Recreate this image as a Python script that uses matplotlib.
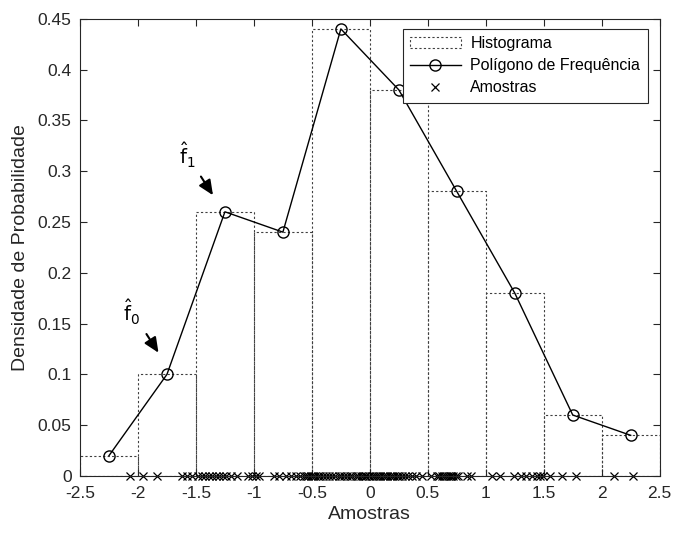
import matplotlib.pyplot as plt
import numpy as np

plt.rcParams['font.family'] = ['Liberation Sans', 'DejaVu Sans']

# histogram bins and densities
bin_edges = [-2.5, -2.0, -1.5, -1.0, -0.5, 0.0, 0.5, 1.0, 1.5, 2.0, 2.5]
densidade = [0.02, 0.10, 0.26, 0.24, 0.44, 0.38, 0.28, 0.18, 0.06, 0.04]
centros = [-2.25, -1.75, -1.25, -0.75, -0.25, 0.25, 0.75, 1.25, 1.75, 2.25]

# samples
amostras = [
    -2.07,
    -1.96, -1.84, -1.62, -1.58, -1.53,
    -1.48, -1.45, -1.42, -1.39, -1.36, -1.33, -1.30, -1.27, -1.24, -1.20,
    -1.15, -1.05, -1.02,
    -0.98, -0.96, -0.83, -0.78, -0.72, -0.68, -0.64, -0.60, -0.57, -0.55,
    -0.53, -0.51,
    -0.49, -0.47, -0.45, -0.43, -0.40, -0.38, -0.35, -0.33, -0.30, -0.27,
    -0.25, -0.22, -0.20, -0.17, -0.15, -0.12, -0.10, -0.08, -0.06, -0.04,
    -0.03, -0.01,
    0.02, 0.04, 0.05, 0.07, 0.09, 0.11, 0.13, 0.15, 0.17, 0.19, 0.21, 0.23,
    0.25, 0.28, 0.30, 0.33, 0.36, 0.40, 0.45,
    0.53, 0.58, 0.60, 0.62, 0.64, 0.66, 0.67, 0.69, 0.70, 0.72, 0.74, 0.76,
    0.84, 0.87,
    1.05, 1.12, 1.24, 1.30, 1.35, 1.40, 1.44, 1.47, 1.49,
    1.55, 1.66, 1.78,
    2.11, 2.27,
]

fig = plt.figure(figsize=(6.78, 5.36), dpi=100)
ax = fig.add_axes([0.118, 0.112, 0.855, 0.853])

largura = np.diff(bin_edges)
hist = ax.bar(bin_edges[:-1], densidade, width=largura, align='edge',
              fill=False, edgecolor='#404040', linestyle=(0, (2, 2)),
              linewidth=0.8, label='Histograma')
pol, = ax.plot(centros, densidade, '-o', color='black', markerfacecolor='none',
               markersize=8, linewidth=1.0, label='Polígono de Frequência')
amo, = ax.plot(amostras, np.zeros(len(amostras)), 'x', color='black',
               markersize=6, markeredgewidth=0.9, linestyle='none',
               label='Amostras', clip_on=False)

ax.annotate('', xy=(-1.81, 0.119), xytext=(-1.94, 0.142),
            arrowprops=dict(arrowstyle='-|>,head_length=0.9,head_width=0.4',
                            color='black', lw=1.5))
ax.text(-2.13, 0.152, r'$\hat{\mathrm{f}}_0$', fontsize=14)
ax.annotate('', xy=(-1.34, 0.274), xytext=(-1.47, 0.297),
            arrowprops=dict(arrowstyle='-|>,head_length=0.9,head_width=0.4',
                            color='black', lw=1.5))
ax.text(-1.65, 0.306, r'$\hat{\mathrm{f}}_1$', fontsize=14)

ax.set_xlim(-2.5, 2.5)
ax.set_ylim(0, 0.45)
ax.set_xticks(np.arange(-2.5, 2.51, 0.5))
ax.set_xticklabels(['-2.5', '-2', '-1.5', '-1', '-0.5', '0', '0.5', '1',
                    '1.5', '2', '2.5'])
ax.set_yticks(np.arange(0, 0.451, 0.05))
ax.set_yticklabels(['0', '0.05', '0.1', '0.15', '0.2', '0.25', '0.3', '0.35',
                    '0.4', '0.45'])
ax.tick_params(direction='in', top=True, right=True, labelsize=12.5,
               colors='#262626', length=5)
ax.tick_params(axis='x', pad=7)
ax.tick_params(axis='y', pad=6)
for s in ax.spines.values():
    s.set_color('#262626')
ax.set_xlabel('Amostras', fontsize=14, color='#262626', labelpad=4)
ax.set_ylabel('Densidade de Probabilidade', fontsize=14, color='#262626',
              labelpad=6)

leg = ax.legend([hist, pol, amo],
                ['Histograma', 'Polígono de Frequência', 'Amostras'],
                loc='upper right', bbox_to_anchor=(0.979, 0.978),
                fontsize=11.5, fancybox=False, edgecolor='#262626',
                framealpha=1, borderaxespad=0, handlelength=3.2,
                handletextpad=0.6, borderpad=0.45, labelspacing=0.45)
leg.get_frame().set_linewidth(0.8)

fig.savefig('out.png', dpi=100)
